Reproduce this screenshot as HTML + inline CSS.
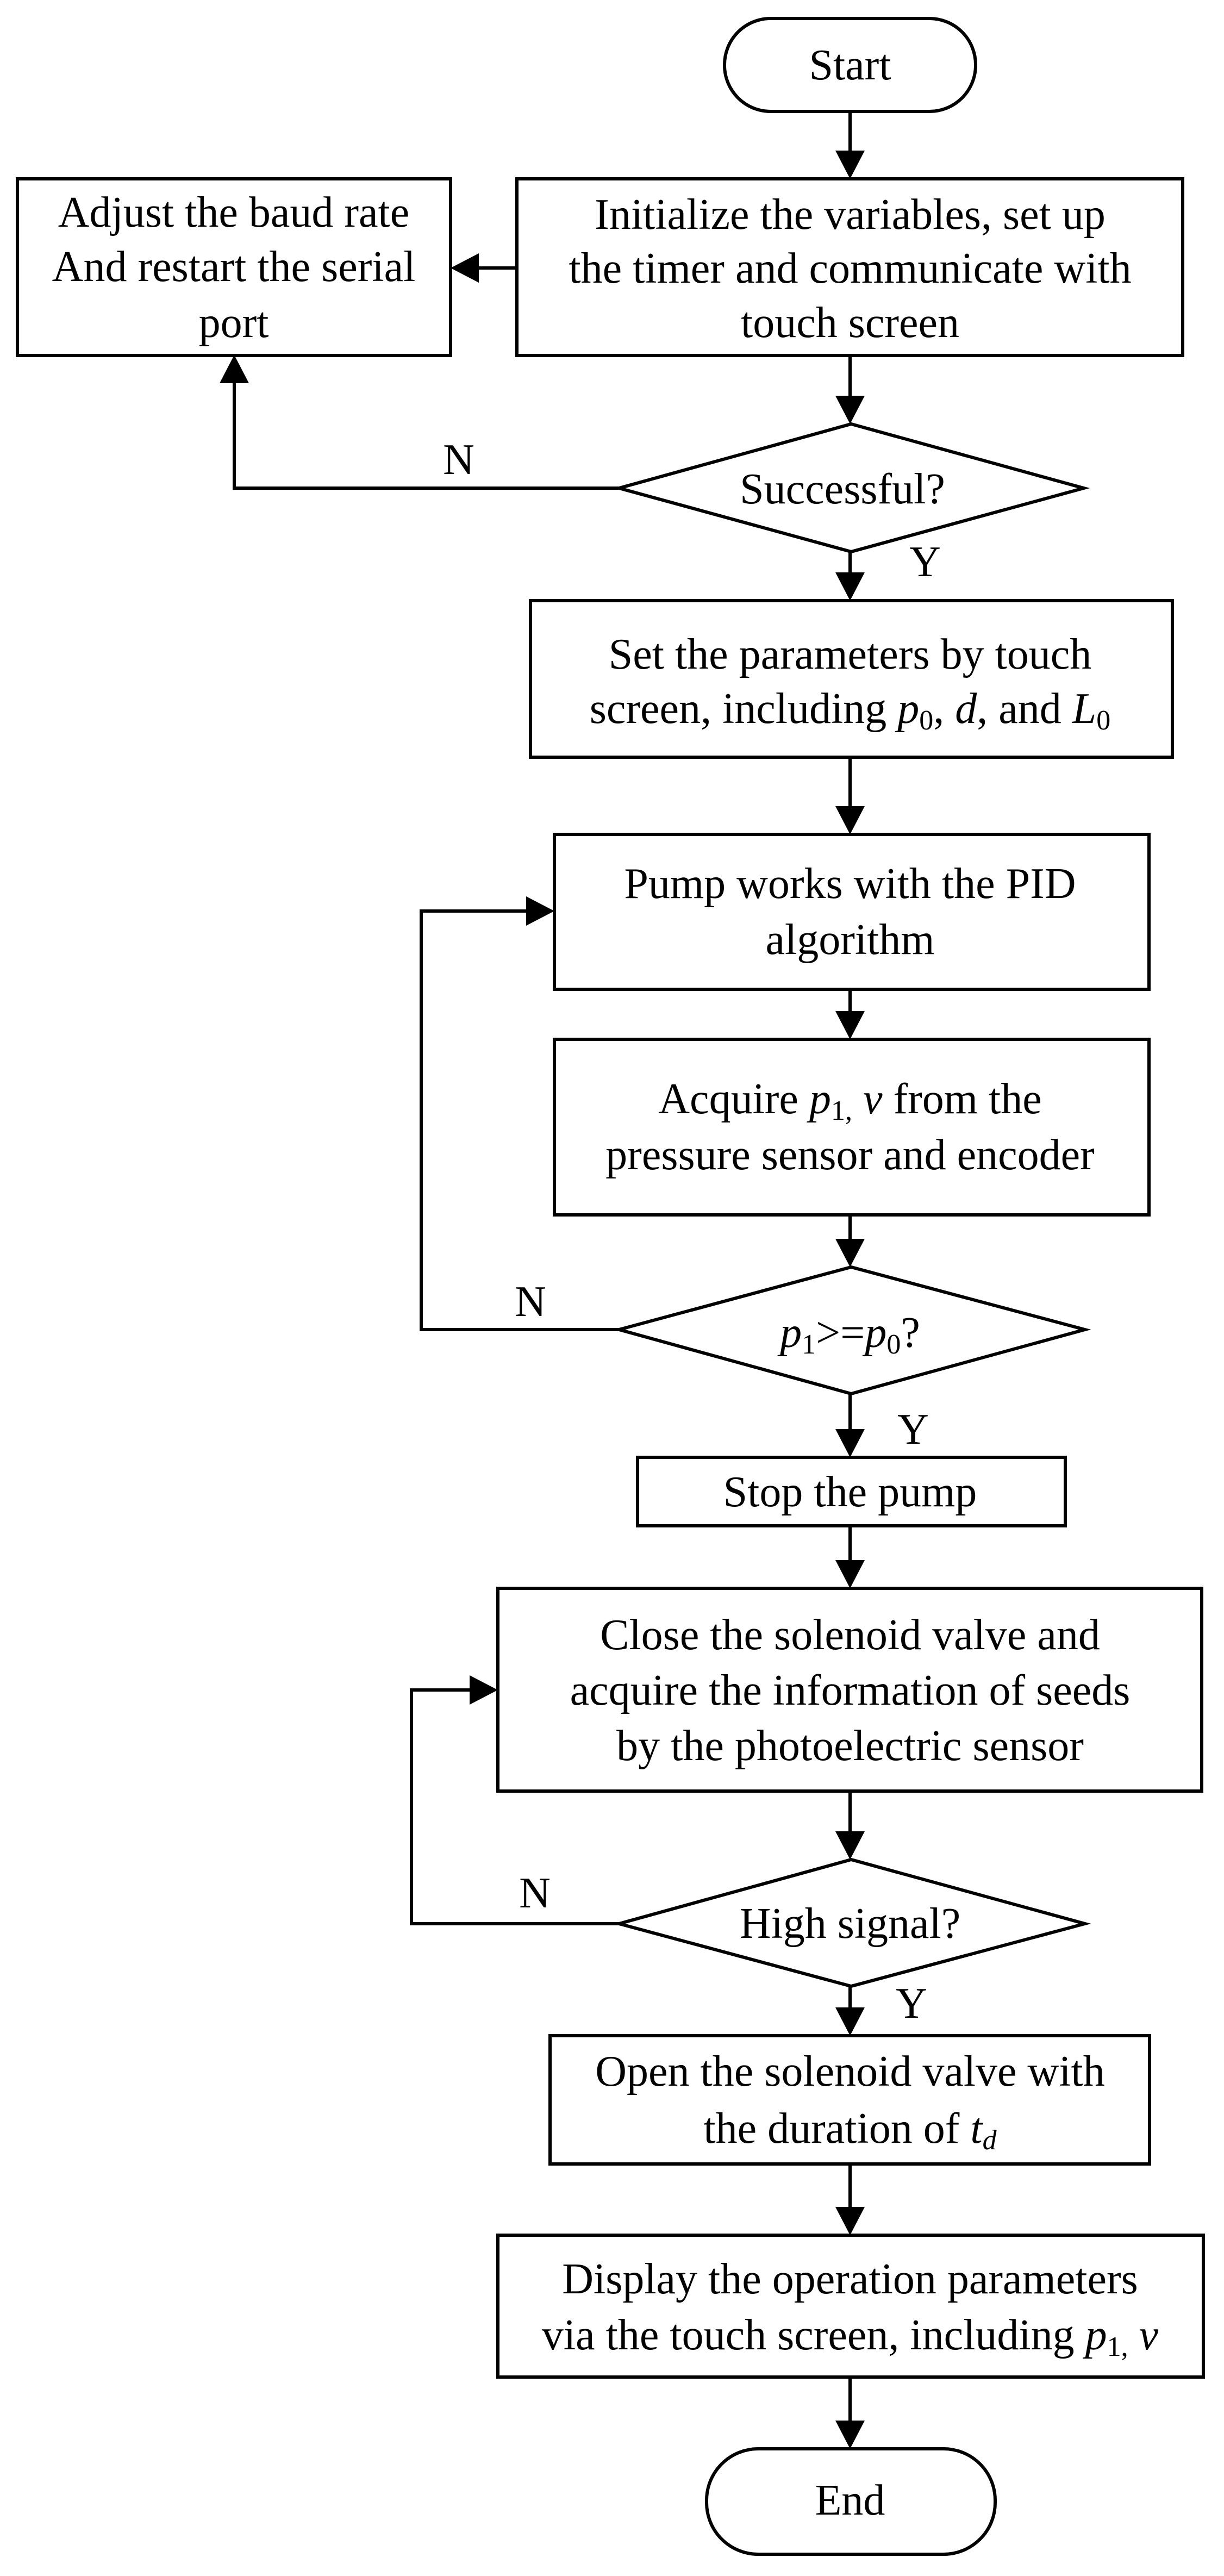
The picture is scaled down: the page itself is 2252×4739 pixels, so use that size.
<!DOCTYPE html>
<html><head><meta charset="utf-8"><style>
html,body{margin:0;padding:0;background:#fff;}
svg{display:block;}
text{font-family:"Liberation Serif","Times New Roman",serif;font-size:80px;fill:#000;text-anchor:middle;}
.i{font-style:italic;}
.s{font-size:52px;}
</style></head><body>
<svg width="2252" height="4739" viewBox="0 0 2252 4739" xmlns="http://www.w3.org/2000/svg">
<g fill="none" stroke="#000" stroke-width="6">
<rect x="1333" y="34" width="462" height="171" rx="85" ry="85"/>
<rect x="951" y="329" width="1225" height="325"/>
<rect x="32" y="329" width="797" height="325"/>
<polygon points="1139,898 1566,780 1994,898 1566,1015"/>
<rect x="976" y="1105" width="1181" height="288"/>
<rect x="1020" y="1535" width="1094" height="285"/>
<rect x="1020" y="1912" width="1094" height="323"/>
<polygon points="1139,2446 1566,2331 1996,2446 1566,2564"/>
<rect x="1173" y="2681" width="787" height="126"/>
<rect x="916" y="2922" width="1295" height="373"/>
<polygon points="1139,3539 1566,3421 1996,3539 1566,3654"/>
<rect x="1012" y="3745" width="1103" height="236"/>
<rect x="916" y="4112" width="1298" height="261"/>
<rect x="1300" y="4505" width="531" height="194" rx="95" ry="95"/>
<!-- connectors -->
<path d="M1564 205V300M1564 654V752M1564 1015V1077M1564 1393V1507M1564 1820V1884M1564 2235V2303M1564 2564V2653M1564 2807V2894M1564 3295V3393M1564 3654V3717M1564 3981V4084M1564 4373V4477"/>
<path d="M951 493H857"/>
<path d="M1139 898H431V682"/>
<path d="M1139 2446H775V1676H992"/>
<path d="M1139 3539H757V3109H888"/>
</g>
<g fill="#000">
<polygon points="1537,277 1591,277 1564,329"/>
<polygon points="1537,728 1591,728 1564,780"/>
<polygon points="1537,1053 1591,1053 1564,1105"/>
<polygon points="1537,1483 1591,1483 1564,1535"/>
<polygon points="1537,1860 1591,1860 1564,1912"/>
<polygon points="1537,2279 1591,2279 1564,2331"/>
<polygon points="1537,2629 1591,2629 1564,2681"/>
<polygon points="1537,2870 1591,2870 1564,2922"/>
<polygon points="1537,3369 1591,3369 1564,3421"/>
<polygon points="1537,3693 1591,3693 1564,3745"/>
<polygon points="1537,4060 1591,4060 1564,4112"/>
<polygon points="1537,4453 1591,4453 1564,4505"/>
<polygon points="881,466 881,520 829,493"/>
<polygon points="404,705 458,705 431,653"/>
<polygon points="968,1649 968,1703 1020,1676"/>
<polygon points="864,3082 864,3136 916,3109"/>
</g>
<text x="1564" y="146">Start</text>
<text x="430" y="417">Adjust the baud rate</text>
<text x="430" y="517">And restart the serial</text>
<text x="430" y="620">port</text>
<text x="1564" y="421">Initialize  the variables, set up</text>
<text x="1564" y="520">the timer and communicate with</text>
<text x="1564" y="620">touch screen</text>
<text x="1550" y="926">Successful?</text>
<text x="844" y="872">N</text>
<text x="1702" y="1060">Y</text>
<text x="1564" y="1230">Set the  parameters by touch</text>
<text x="1564" y="1330">screen, including <tspan class="i">p</tspan><tspan class="s" dy="12">0</tspan><tspan dy="-12">, </tspan><tspan class="i">d</tspan>, and  <tspan class="i">L</tspan><tspan class="s" dy="12">0</tspan></text>
<text x="1564" y="1652">Pump works with the PID</text>
<text x="1564" y="1755">algorithm</text>
<text x="1564" y="2048">Acquire <tspan class="i">p</tspan><tspan class="s" dy="12">1,</tspan><tspan dy="-12"> </tspan><tspan class="i">v</tspan> from the</text>
<text x="1564" y="2151">pressure sensor and encoder</text>
<text x="1564" y="2478"><tspan class="i">p</tspan><tspan class="s" dy="12">1</tspan><tspan dy="-12">&gt;=</tspan><tspan class="i">p</tspan><tspan class="s" dy="12">0</tspan><tspan dy="-12">?</tspan></text>
<text x="976" y="2421">N</text>
<text x="1680" y="2656">Y</text>
<text x="1564" y="2771">Stop the pump</text>
<text x="1564" y="3034">Close the solenoid valve and</text>
<text x="1564" y="3136">acquire the information of seeds</text>
<text x="1564" y="3238">by the photoelectric sensor</text>
<text x="1564" y="3565">High signal?</text>
<text x="984" y="3509">N</text>
<text x="1677" y="3712">Y</text>
<text x="1564" y="3837">Open the solenoid valve with</text>
<text x="1564" y="3942">the duration  of <tspan class="i">t</tspan><tspan class="s i" dy="12">d</tspan></text>
<text x="1564" y="4219">Display the operation parameters</text>
<text x="1564" y="4322">via the touch screen, including <tspan class="i">p</tspan><tspan class="s" dy="12">1,</tspan><tspan dy="-12"> </tspan><tspan class="i">v</tspan></text>
<text x="1564" y="4626">End</text>
</svg>
</body></html>
